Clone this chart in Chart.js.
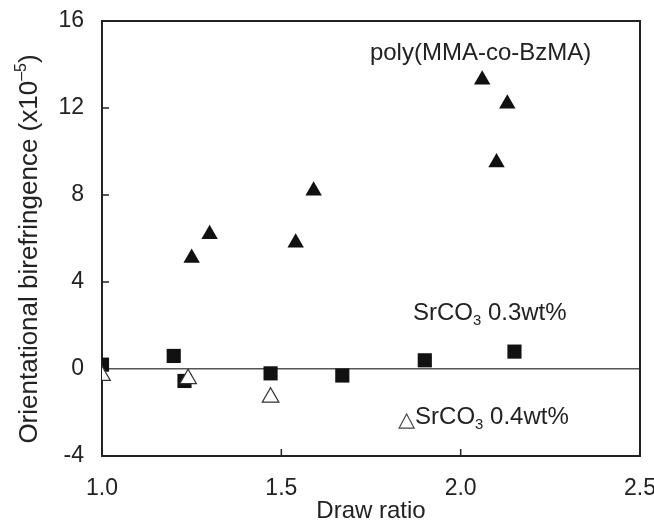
<!DOCTYPE html>
<html>
<head>
<meta charset="utf-8">
<script src="https://cdn.jsdelivr.net/npm/chart.js@4/dist/chart.umd.min.js"></script>
<style>
  html, body { margin: 0; background: #fff; }
  #wrap { width: 654px; height: 526px; }
</style>
</head>
<body>
<div id="wrap"><canvas id="chart"></canvas></div>
<script>
// poly(MMA-co-BzMA), filled triangles
const copolymerX = [1.25, 1.30, 1.54, 1.59, 2.06, 2.13, 2.10];
const copolymerY = [5.1, 6.2, 5.8, 8.2, 13.3, 12.2, 9.5];
// SrCO3 0.3wt%, filled squares
const sr03X = [1.00, 1.20, 1.23, 1.47, 1.67, 1.90, 2.15];
const sr03Y = [0.2, 0.6, -0.55, -0.2, -0.3, 0.4, 0.8];
// SrCO3 0.4wt%, open triangles
const sr04X = [1.00, 1.24, 1.47];
const sr04Y = [-0.3, -0.45, -1.3];

const xTicks = [1.0, 1.5, 2.0, 2.5];
const yTicks = [-4, 0, 4, 8, 12, 16];

// annotation texts, anchored in data units [x, baseline y]
const noteCopolymer = { parts: [['poly(MMA-co-BzMA)', 0]], at: [1.747, 14.2] };
const noteSr03 = { parts: [['SrCO', 0], ['3', 1], [' 0.3wt%', 0]], at: [1.867, 2.25] };
const noteSr04 = { parts: [['SrCO', 0], ['3', 1], [' 0.4wt%', 0]], at: [1.873, -2.53] };

const ink = '#222';
const fam = '"Liberation Sans", Arial, sans-serif';

const toPoints = (xs, ys) => xs.map((x, i) => ({ x: x, y: ys[i] }));

function drawParts(ctx, parts, x, y, size) {
  parts.forEach(p => {
    const s = p[1] ? size * 0.62 : size;
    ctx.font = s + 'px ' + fam;
    ctx.fillText(p[0], x, p[1] ? y + size * 0.2 : y);
    x += ctx.measureText(p[0]).width;
  });
  return x;
}

const decor = {
  id: 'decor',
  beforeDatasetsDraw(chart) {
    const { ctx, chartArea: a, scales } = chart;
    ctx.save();
    ctx.strokeStyle = ink;
    ctx.lineWidth = 2;
    ctx.strokeRect(a.left, a.top, a.right - a.left, a.bottom - a.top);
    ctx.lineWidth = 1.5;
    ctx.beginPath();
    yTicks.slice(1, -1).forEach(v => {
      const py = scales.y.getPixelForValue(v);
      ctx.moveTo(a.left, py);
      ctx.lineTo(a.left + 7, py);
    });
    xTicks.slice(1, -1).forEach(v => {
      const px = scales.x.getPixelForValue(v);
      ctx.moveTo(px, a.bottom);
      ctx.lineTo(px, a.bottom - 7);
    });
    ctx.stroke();
    ctx.restore();
  },
  afterDatasetsDraw(chart) {
    const { ctx, scales } = chart;
    ctx.save();
    ctx.fillStyle = ink;
    ctx.textBaseline = 'alphabetic';
    ctx.textAlign = 'left';
    [noteCopolymer, noteSr03].forEach(n => {
      drawParts(ctx, n.parts, scales.x.getPixelForValue(n.at[0]), scales.y.getPixelForValue(n.at[1]), 24);
    });
    // small open triangle in front of the 0.4wt% note
    const nx = scales.x.getPixelForValue(noteSr04.at[0]);
    const ny = scales.y.getPixelForValue(noteSr04.at[1]);
    ctx.strokeStyle = '#444';
    ctx.lineWidth = 1.2;
    ctx.beginPath();
    ctx.moveTo(nx - 16, ny + 4);
    ctx.lineTo(nx - 1, ny + 4);
    ctx.lineTo(nx - 8.5, ny - 10);
    ctx.closePath();
    ctx.stroke();
    drawParts(ctx, noteSr04.parts, nx, ny, 24);

    // rotated y-axis title with superscript
    ctx.translate(37, 249);
    ctx.rotate(-Math.PI / 2);
    ctx.font = '26px ' + fam;
    const main = 'Orientational birefringence (x10';
    const sup = '\u20135';
    const w1 = ctx.measureText(main).width;
    ctx.font = '16px ' + fam;
    const w2 = ctx.measureText(sup).width;
    ctx.font = '26px ' + fam;
    const w3 = ctx.measureText(')').width;
    let x0 = -(w1 + w2 + w3) / 2;
    ctx.fillText(main, x0, 0);
    ctx.font = '16px ' + fam;
    ctx.fillText(sup, x0 + w1, -11);
    ctx.font = '26px ' + fam;
    ctx.fillText(')', x0 + w1 + w2, 0);
    ctx.restore();
  }
};

new Chart(document.getElementById('chart'), {
  type: 'scatter',
  data: {
    datasets: [
      {
        label: 'poly(MMA-co-BzMA)',
        data: toPoints(copolymerX, copolymerY),
        pointStyle: 'triangle',
        pointRadius: 9.5,
        backgroundColor: '#111',
        borderColor: '#111',
        borderWidth: 0
      },
      {
        label: 'SrCO3 0.4wt%',
        data: toPoints(sr04X, sr04Y),
        pointStyle: 'triangle',
        pointRadius: 9.5,
        backgroundColor: '#fff',
        borderColor: '#333',
        borderWidth: 1.3
      },
      {
        label: 'SrCO3 0.3wt%',
        data: toPoints(sr03X, sr03Y),
        pointStyle: 'rect',
        pointRadius: 10,
        backgroundColor: '#111',
        borderColor: '#111',
        borderWidth: 0
      }
    ]
  },
  options: {
    responsive: true,
    maintainAspectRatio: false,
    animation: false,
    layout: { padding: { top: 21, right: 14, left: 0, bottom: 0 } },
    plugins: {
      legend: { display: false },
      tooltip: { enabled: false }
    },
    scales: {
      x: {
        type: 'linear',
        min: 1.0,
        max: 2.5,
        afterBuildTicks: s => { s.ticks = xTicks.map(v => ({ value: v })); },
        afterFit: s => { s.height = 70; s.paddingLeft = 0; s.paddingRight = 0; },
        grid: { display: false, drawTicks: false },
        border: { display: false },
        ticks: {
          padding: 19,
          color: ink,
          font: { family: fam, size: 23 },
          maxRotation: 0,
          callback: v => v.toFixed(1)
        },
        title: {
          display: true,
          text: 'Draw ratio',
          color: ink,
          font: { family: fam, size: 24 },
          padding: { top: -4, bottom: 0 }
        }
      },
      y: {
        type: 'linear',
        min: -4,
        max: 16,
        afterBuildTicks: s => { s.ticks = yTicks.map(v => ({ value: v })); },
        afterFit: s => { s.width = 102; s.paddingTop = 0; s.paddingBottom = 0; },
        grid: {
          drawTicks: false,
          lineWidth: 1.5,
          color: c => (c.tick && c.tick.value === 0 ? '#555' : 'rgba(0,0,0,0)')
        },
        border: { display: false },
        ticks: {
          padding: 18,
          color: ink,
          font: { family: fam, size: 23 },
          callback: v => String(v)
        }
      }
    }
  },
  plugins: [decor]
});
</script>
</body>
</html>
